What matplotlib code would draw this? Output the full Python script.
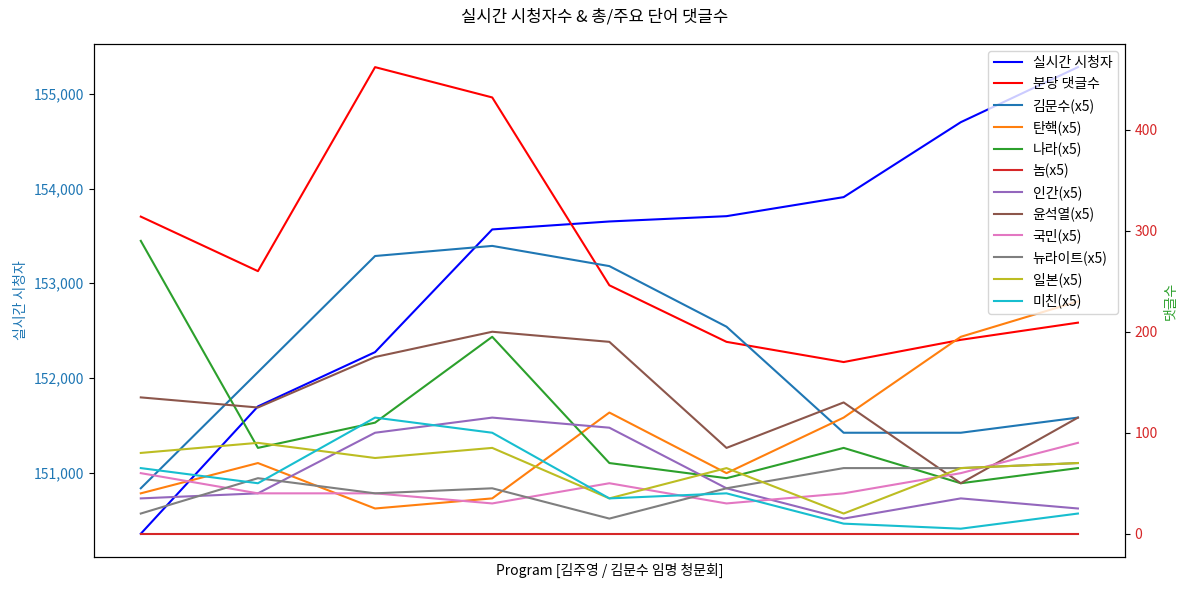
import matplotlib
matplotlib.use("Agg")
import matplotlib.pyplot as plt
from matplotlib.ticker import FuncFormatter

plt.rcParams['font.family'] = ['Noto Sans CJK KR', 'DejaVu Sans']
plt.rcParams['axes.unicode_minus'] = False

x = list(range(9))
viewers = [150356, 151700, 152273, 153568, 153652, 153708, 153909, 154700, 155281]
comments_per_min = [314, 260, 462, 432, 246, 190, 170, 192, 209]

word_names = ['김문수', '탄핵', '나라', '놈', '인간', '윤석열', '국민', '뉴라이트', '일본', '미친']
word_counts = {
    '김문수': [45, 160, 275, 285, 265, 205, 100, 100, 115],
    '탄핵': [40, 70, 25, 35, 120, 60, 115, 195, 230],
    '나라': [290, 85, 110, 195, 70, 55, 85, 50, 65],
    '놈': [0, 0, 0, 0, 0, 0, 0, 0, 0],
    '인간': [35, 40, 100, 115, 105, 45, 15, 35, 25],
    '윤석열': [135, 125, 175, 200, 190, 85, 130, 50, 115],
    '국민': [60, 40, 40, 30, 50, 30, 40, 60, 90],
    '뉴라이트': [20, 55, 40, 45, 15, 45, 65, 65, 70],
    '일본': [80, 90, 75, 85, 35, 65, 20, 65, 70],
    '미친': [65, 50, 115, 100, 35, 40, 10, 5, 20],
}
word_colors = ['tab:blue', 'tab:orange', 'tab:green', 'tab:red', 'tab:purple',
               'tab:brown', 'tab:pink', 'tab:gray', 'tab:olive', 'tab:cyan']

fig, ax1 = plt.subplots(figsize=(11.89, 5.92), dpi=100)
ax2 = ax1.twinx()

l1, = ax1.plot(x, viewers, color='blue', label='실시간 시청자')
l2, = ax2.plot(x, comments_per_min, color='red', label='분당 댓글수')
handles = [l1, l2]
for name, c in zip(word_names, word_colors):
    h, = ax2.plot(x, word_counts[name], color=c, label=f'{name}(x5)')
    handles.append(h)

ax1.set_xticks([])
ax1.set_xlabel('Program [김주영 / 김문수 임명 청문회]')
ax1.set_ylabel('실시간 시청자', color='tab:blue')
ax1.tick_params(axis='y', labelcolor='tab:blue')
ax1.yaxis.set_major_formatter(FuncFormatter(lambda v, p: f'{int(v):,}'))
ax2.set_ylabel('댓글수', color='tab:green')
ax2.tick_params(axis='y', labelcolor='tab:red')

ax2.legend(handles=handles, labels=[h.get_label() for h in handles], loc='upper right')
fig.suptitle('실시간 시청자수 & 총/주요 단어 댓글수', y=0.985)
fig.subplots_adjust(left=0.079, right=0.946, top=0.926, bottom=0.059)
fig.savefig('out.png', dpi=100)
